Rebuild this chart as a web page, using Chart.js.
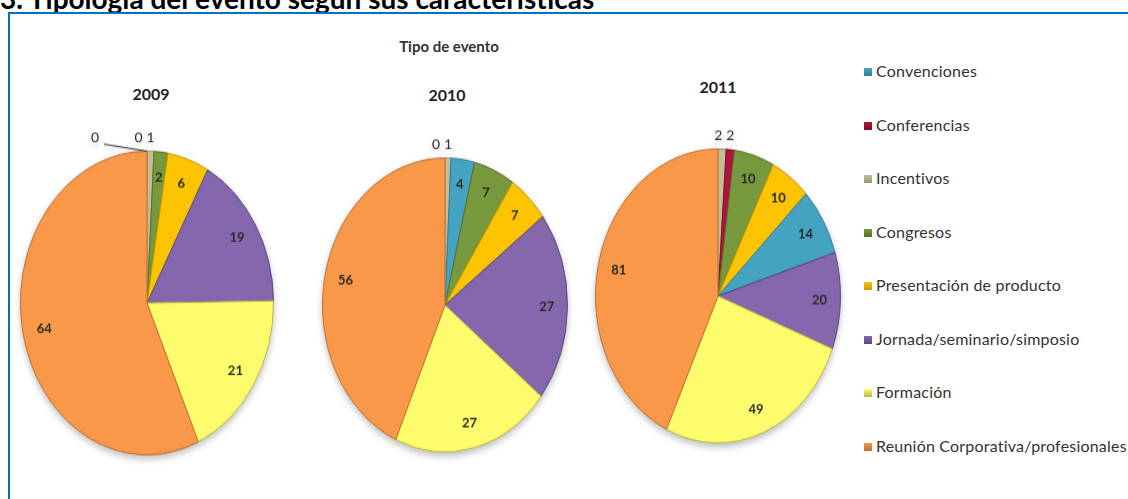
<!DOCTYPE html>
<html>
<head>
<meta charset="utf-8">
<script src="https://cdn.jsdelivr.net/npm/chart.js@4.4.1/dist/chart.umd.min.js"></script>
<style>
  body { margin: 0; width: 1128px; height: 499px; background: #fff; overflow: hidden; position: relative; font-family: Lato, sans-serif; }
  #heading { position: absolute; left: 0; top: -16px; font: bold 28px/28px Lato, sans-serif; color: #000; white-space: nowrap; }
  #box { position: absolute; left: 8px; top: 12px; width: 1130px; height: 500px; border-left: 2px solid #0070c0; border-top: 2px solid #0070c0; }
  #title { position: absolute; left: 449px; top: 37px; transform: translateX(-50%); font: bold 15px Lato, sans-serif; color: #333; }
  .year { position: absolute; transform: translateX(-50%); font: bold 16px Lato, sans-serif; color: #222; }
  .pie { position: absolute; filter: drop-shadow(0 3px 3px rgba(0,0,0,0.25)); }
  #legend { position: absolute; left: 864px; top: 61px; }
  .item { position: absolute; left: 0; white-space: nowrap; font: 16px Lato, sans-serif; letter-spacing: 0.2px; color: #333; }
  .sw { display: inline-block; width: 8px; height: 8px; margin-right: 4px; vertical-align: 1px; }
</style>
</head>
<body>
<div id="heading">3. Tipología del evento según sus características</div>
<div id="box"></div>
<div id="title">Tipo de evento</div>
<div id="legend"></div>

<script>
const categories = ['Convenciones', 'Conferencias', 'Incentivos', 'Congresos', 'Presentación de producto',
  'Jornada/seminario/simposio', 'Formación', 'Reunión Corporativa/profesionales'];
const colors = ['#45a3c2', '#b3123f', '#c4bd97', '#77983c', '#fcc400', '#8467ac', '#fcfc6c', '#f89848'];
const borders = ['#2f7f99', '#7d0c2c', '#9a9370', '#56702a', '#c79a00', '#5e4a7e', '#b9b94c', '#c0702f'];

const years = ['2009', '2010', '2011'];
// slice order for each pie, clockwise from the top (indexes into categories)
const order2009 = [0, 1, 2, 3, 4, 5, 6, 7];
const values2009 = [0, 0, 1, 2, 6, 19, 21, 64];
const order2010 = [1, 2, 0, 3, 4, 5, 6, 7];
const values2010 = [0, 1, 4, 7, 7, 27, 27, 56];
const order2011 = [2, 1, 3, 4, 0, 5, 6, 7];
const values2011 = [2, 2, 10, 10, 14, 20, 49, 81];

const SY = 1.2;  // pies are drawn as ellipses: vertical stretch
const PAD = 24;  // room above each pie for the small-slice labels

// legend
const legend = document.getElementById('legend');
categories.forEach(function(c, i) {
  const d = document.createElement('div');
  d.className = 'item';
  d.style.top = (i * 53.5) + 'px';
  d.innerHTML = '<span class="sw" style="background:linear-gradient(' + colors[i] + ',' + borders[i] + ')"></span>' + c;
  legend.appendChild(d);
});

// value labels drawn on the slices
const valueLabels = {
  id: 'valueLabels',
  afterDatasetsDraw(chart) {
    const ctx = chart.ctx;
    const meta = chart.getDatasetMeta(0);
    const data = chart.data.datasets[0].data;
    const total = data.reduce((a, b) => a + b, 0);
    const outside = [];
    ctx.save();
    ctx.font = 'bold 13px Lato, sans-serif';
    ctx.fillStyle = '#2a2a2a';
    ctx.textAlign = 'center';
    ctx.textBaseline = 'middle';
    meta.data.forEach(function(arc, i) {
      const p = arc.getProps(['x', 'y', 'startAngle', 'endAngle', 'outerRadius'], true);
      const mid = (p.startAngle + p.endAngle) / 2;
      if (data[i] / total >= 0.014) {
        const r = p.outerRadius * 0.83;
        ctx.save();
        ctx.translate(p.x + Math.cos(mid) * r, p.y + Math.sin(mid) * r);
        ctx.scale(1, 1 / SY);
        ctx.fillText(String(data[i]), 0, 0);
        ctx.restore();
      } else {
        outside.push({ v: data[i], x: p.x + Math.cos(mid) * p.outerRadius, p: p });
      }
    });
    // small slices: labels above the pie, pushed left so they don't overlap
    ctx.font = '14px Lato, sans-serif';
    let prev = Infinity;
    for (let k = outside.length - 1; k >= 0; k--) {
      const o = outside[k];
      let lx = Math.min(o.x, prev - 12);
      const ly = o.p.y - o.p.outerRadius - 13 / SY;
      if (outside.length - 1 - k >= 2) {
        lx = o.p.x - 52;
        ctx.strokeStyle = '#333';
        ctx.lineWidth = 1;
        ctx.beginPath();
        ctx.moveTo(lx + 9, ly + 6 / SY);
        ctx.lineTo(o.p.x, o.p.y - o.p.outerRadius);
        ctx.stroke();
      }
      ctx.save();
      ctx.translate(lx, ly);
      ctx.scale(1, 1 / SY);
      ctx.fillText(String(o.v), 0, 0);
      ctx.restore();
      prev = lx;
    }
    ctx.restore();
  }
};

function makePie(year, order, values, cx, cy, r, yearX, yearY) {
  const y = document.createElement('div');
  y.className = 'year';
  y.style.left = yearX + 'px';
  y.style.top = yearY + 'px';
  y.textContent = year;
  document.body.appendChild(y);

  const wrap = document.createElement('div');
  wrap.className = 'pie';
  wrap.style.left = (cx - r) + 'px';
  wrap.style.top = (cy - r - PAD) + 'px';
  wrap.style.width = (2 * r) + 'px';
  wrap.style.height = (2 * r + PAD) + 'px';
  wrap.style.transformOrigin = '50% ' + (PAD + r) + 'px';
  wrap.style.transform = 'scaleY(' + SY + ')';
  const cv = document.createElement('canvas');
  cv.width = 2 * r;
  cv.height = 2 * r + PAD;
  wrap.appendChild(cv);
  document.body.appendChild(wrap);

  new Chart(cv.getContext('2d'), {
    type: 'pie',
    data: {
      labels: order.map(i => categories[i]),
      datasets: [{
        data: values,
        backgroundColor: order.map(i => colors[i]),
        borderColor: order.map(i => borders[i]),
        borderWidth: 1
      }]
    },
    options: {
      responsive: false,
      animation: false,
      layout: { padding: { top: PAD } },
      plugins: {
        legend: { display: false },
        tooltip: { enabled: false }
      }
    },
    plugins: [valueLabels]
  });
}

makePie(years[0], order2009, values2009, 147, 303, 127, 151, 84);
makePie(years[1], order2010, values2010, 445, 305, 123, 447, 85);
makePie(years[2], order2011, values2011, 718, 296, 123, 718, 77);
</script>
</body>
</html>
